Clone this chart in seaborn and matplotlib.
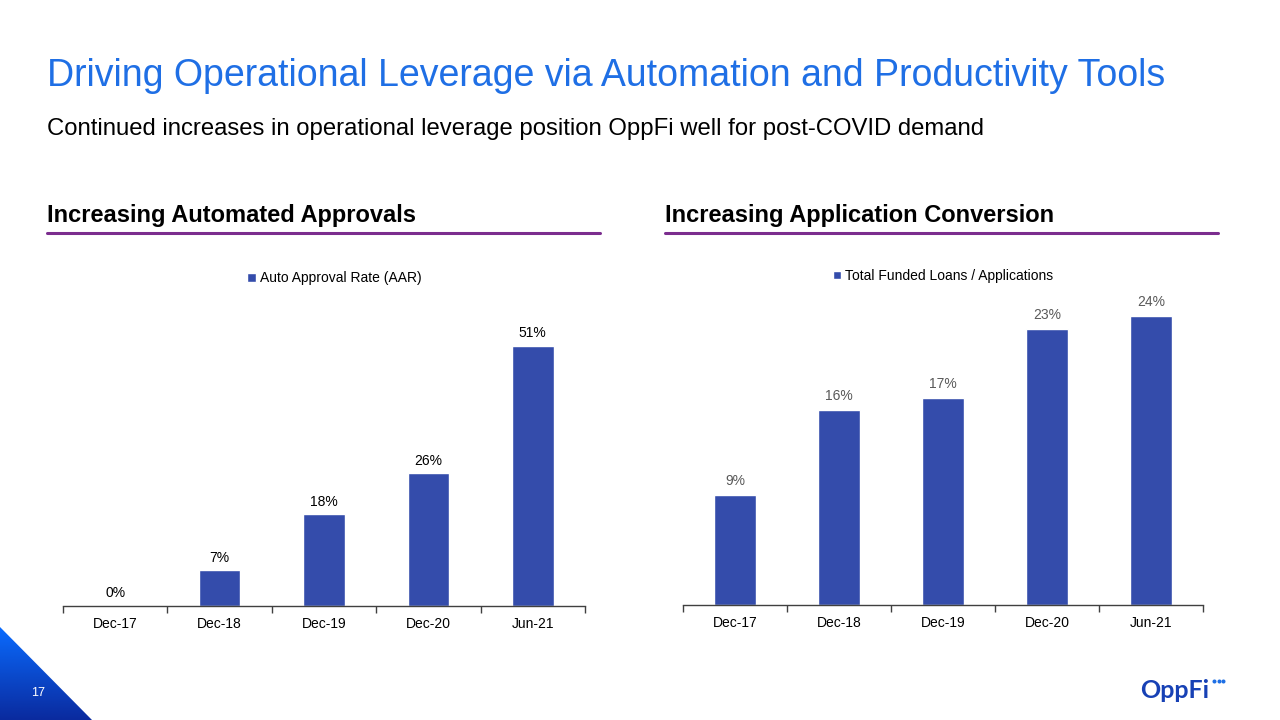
import numpy as np
import pandas as pd
import matplotlib
matplotlib.use("Agg")
import matplotlib.pyplot as plt
from matplotlib.patches import Polygon
import seaborn as sns

periods = ["Dec-17", "Dec-18", "Dec-19", "Dec-20", "Jun-21"]
aar = [0, 7, 18, 26, 51]
aar_labels = ["0%", "7%", "18%", "26%", "51%"]
conv = [9.1, 16.1, 17.1, 22.8, 23.9]
conv_labels = ["9%", "16%", "17%", "23%", "24%"]

sns.set_theme(style="white")
plt.rcParams['font.family'] = ['Liberation Sans', 'DejaVu Sans']
plt.rcParams['text.color'] = 'black'

bar_color = "#344CAB"
fig = plt.figure(figsize=(12.8, 7.2), dpi=100)

fig.text(0.037, 0.894, "Driving Operational Leverage via Automation and Productivity Tools",
         fontsize=27, color="#1F6FE5", va="center")
fig.text(0.037, 0.821, "Continued increases in operational leverage position OppFi well for post-COVID demand",
         fontsize=17.2, color="black", va="center")

for x0, x1, head in [(47, 600, "Increasing Automated Approvals"),
                     (665, 1218, "Increasing Application Conversion")]:
    fig.text(x0 / 1280, 1 - 215 / 720, head, fontsize=17, fontweight="bold",
             color="black", va="center")
    fig.add_artist(plt.Line2D([x0 / 1280, x1 / 1280], [1 - 233 / 720] * 2,
                              color="#7B2D8E", lw=2.2))


def draw(ax, vals, labels, top, legend, lab_color, off):
    df = pd.DataFrame({"period": periods, "value": vals})
    sns.barplot(data=df, x="period", y="value", color=bar_color, width=0.4,
                saturation=1, ax=ax, label=legend)
    ax.set_xlim(-0.5, 4.5)
    ax.set_ylim(0, top)
    for i, (v, t) in enumerate(zip(vals, labels)):
        ax.annotate(t, (i, v), xytext=(0, off), textcoords="offset points",
                    ha="center", va="bottom", fontsize=10, color=lab_color)
    for s in ["top", "right", "left"]:
        ax.spines[s].set_visible(False)
    ax.spines["bottom"].set_color("#404040")
    ax.spines["bottom"].set_linewidth(1)
    ax.set_yticks([])
    ax.set_xlabel("")
    ax.set_ylabel("")
    ax.set_xticks(np.arange(-0.5, 5, 1), minor=True)
    ax.tick_params(axis="x", which="major", length=0, labelsize=10, pad=8, labelcolor="black")
    ax.tick_params(axis="x", which="minor", length=5, width=1, color="#404040", bottom=True)
    ax.legend(loc="upper center", frameon=False, fontsize=10,
              handlelength=0.6, handleheight=0.6, handletextpad=0.3)


ax1 = fig.add_axes([63 / 1280, 1 - 606 / 720, 522 / 1280, 356 / 720])
draw(ax1, aar, aar_labels, 356 / 5.1, "Auto Approval Rate (AAR)", "black", 4)
ax1.legend_.set_bbox_to_anchor((0.52, 0.975))

ax2 = fig.add_axes([683 / 1280, 1 - 605 / 720, 520 / 1280, 355 / 720])
draw(ax2, conv, conv_labels, 355 / 12.1, "Total Funded Loans / Applications", "#595959", 5)
ax2.legend_.set_bbox_to_anchor((0.5, 0.982))

# corner triangle with gradient
cax = fig.add_axes([0, 0, 92 / 1280, 93 / 720])
grad = np.linspace(0, 1, 256).reshape(-1, 1)
cmap = matplotlib.colors.LinearSegmentedColormap.from_list("g", ["#0A6CFF", "#0A2A9E"])
im = cax.imshow(grad, cmap=cmap, aspect="auto", extent=[0, 1, 0, 1])
tri = Polygon([[0, 1], [1, 0], [0, 0]], closed=True, transform=cax.transData)
cax.set_xlim(0, 1)
cax.set_ylim(0, 1)
im.set_clip_path(tri)
cax.axis("off")
fig.text(38 / 1280, 1 - 693 / 720, "17", color="white", fontsize=9, ha="center", va="center")

# logo
fig.text(1140 / 1280, 1 - 690 / 720, "OppFi", color="#1741B5", fontsize=18,
         fontweight="bold", va="center", family=["Lato", "DejaVu Sans"])
for dx in [0, 4.5, 9]:
    fig.add_artist(plt.Line2D([(1214 + dx) / 1280], [1 - 681 / 720], marker="o",
                              markersize=1.9, color="#1E6FE5", lw=0))

fig.savefig("out.png", dpi=100)
